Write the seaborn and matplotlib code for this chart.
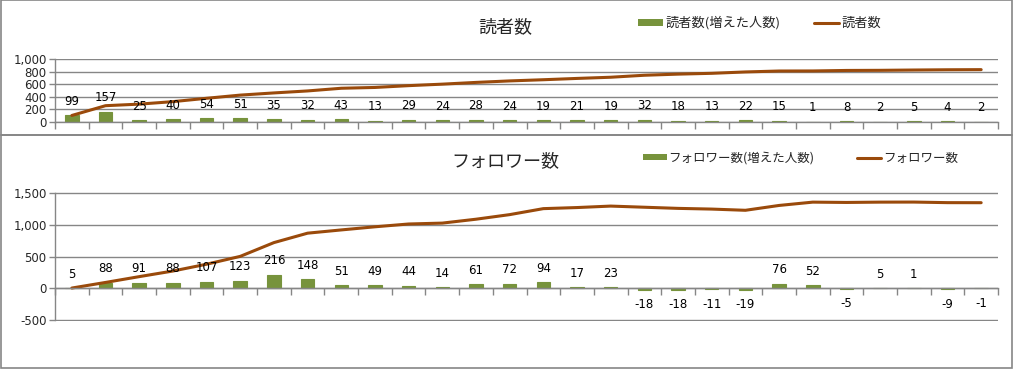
import numpy as np
import matplotlib
matplotlib.use("Agg")
import matplotlib.pyplot as plt
from matplotlib.patches import Rectangle, Patch
from matplotlib.lines import Line2D
import seaborn as sns

sns.set_style("white")
plt.rcParams['font.family'] = ['Noto Sans CJK JP', 'DejaVu Sans']

# reader data
reader_inc = [99, 157, 25, 40, 54, 51, 35, 32, 43, 13, 29, 24, 28, 24,
              19, 21, 19, 32, 18, 13, 22, 15, 1, 8, 2, 5, 4, 2]
reader_total = [99, 256, 281, 321, 375, 426, 461, 493, 536, 549, 578, 602, 630, 654,
                673, 694, 713, 745, 763, 776, 798, 813, 814, 822, 824, 829, 833, 835]

# follower data
follower_inc = [5, 88, 91, 88, 107, 123, 216, 148, 51, 49, 44, 14, 61, 72,
                94, 17, 23, -18, -18, -11, -19, 76, 52, -5, 5, 1, -9, -1]
follower_total = [5, 93, 184, 272, 379, 502, 718, 866, 917, 966, 1010, 1024, 1085, 1157,
                  1251, 1268, 1291, 1273, 1255, 1244, 1225, 1301, 1353, 1348, 1353, 1354, 1345, 1344]

bar_col = "#77933C"
line_col = "#9A4A0B"
grid_col = "#868686"
num_font = ['DejaVu Sans']
W, H = 1013, 369

fig = plt.figure(figsize=(W / 100, H / 100), dpi=100)

# chart borders
for y0, y1 in [(0, 135), (135, 368)]:
    fig.patches.append(Rectangle((0.5 / W, 1 - y1 / H), (W - 1.5) / W, (y1 - y0) / H,
                                 transform=fig.transFigure, fill=False,
                                 edgecolor=grid_col, linewidth=1.2))


def panel(rect, inc, total, ymin, ymax, step, title, bar_label, line_label,
          title_y, leg_pos, colsp, leg_fs):
    left, top, right, bottom = rect
    ax = fig.add_axes([left / W, 1 - bottom / H, (right - left) / W, (bottom - top) / H])
    x = list(range(len(inc)))
    sns.barplot(x=x, y=inc, color=bar_col, width=0.4, saturation=1,
                edgecolor=bar_col, linewidth=0.8, ax=ax)
    sns.lineplot(x=x, y=total, color=line_col, linewidth=2.2, ax=ax)
    ax.set_xlim(-0.5, len(inc) - 0.5)
    pad = (ymax - ymin) * 0.006
    ax.set_ylim(ymin - pad, ymax + pad)
    ticks = np.arange(ymin, ymax + 1, step)
    ax.set_yticks(ticks)
    ax.set_yticklabels([f"{v:,}" for v in ticks], fontsize=8.5, family=num_font)
    ax.yaxis.grid(True, color=grid_col, linewidth=1)
    ax.set_axisbelow(True)
    ax.set_xticks(np.arange(-0.5, len(inc), 1))
    ax.set_xticklabels([])
    ax.tick_params(axis='x', bottom=True, length=5, color=grid_col, width=1, direction='out')
    ax.tick_params(axis='y', left=True, length=4, color=grid_col, width=1, direction='out', pad=2)
    for s in ['top', 'right']:
        ax.spines[s].set_visible(False)
    for s in ['left', 'bottom']:
        ax.spines[s].set_visible(True)
        ax.spines[s].set_color(grid_col)
        ax.spines[s].set_linewidth(1)
    ax.spines['left'].set_bounds(ymin, ymax)
    ax.spines['bottom'].set_position(('data', 0))
    ax.set_xlabel("")
    ax.set_ylabel("")
    for i, v in enumerate(inc):
        off = 10 if v >= 0 else -11
        ax.annotate(str(v), (i, v), xytext=(0, off), textcoords='offset points',
                    ha='center', va='center', fontsize=8.5, color='black', family=num_font)
    fig.text(505 / W, 1 - title_y / H, title, ha='center', va='center', fontsize=13)
    handles = [Patch(facecolor=bar_col, edgecolor='none'),
               Line2D([], [], color=line_col, linewidth=2.2)]
    fig.legend(handles, [bar_label, line_label], ncol=2, frameon=False,
               loc='center left', bbox_to_anchor=(leg_pos[0] / W, 1 - leg_pos[1] / H),
               fontsize=leg_fs, handlelength=1.9, handleheight=0.45, handletextpad=0.15,
               columnspacing=colsp, borderaxespad=0, borderpad=0)
    return ax


panel((55, 59, 998, 122), reader_inc, reader_total, 0, 1000, 200,
      "読者数", "読者数(増えた人数)", "読者数", 27, (638, 23), 2.6, 9.5)
panel((55, 192, 998, 321), follower_inc, follower_total, -500, 1500, 500,
      "フォロワー数", "フォロワー数(増えた人数)", "フォロワー数", 161, (643, 158), 3.4, 9)

fig.savefig("out.png", dpi=100)
